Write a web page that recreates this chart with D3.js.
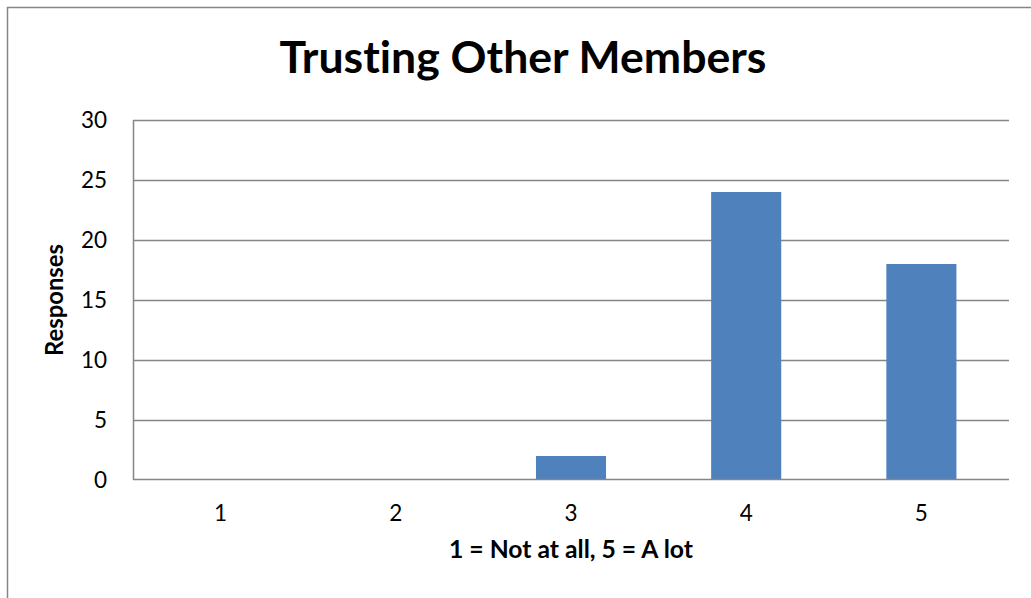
<!DOCTYPE html>
<html>
<head>
<meta charset="utf-8">
<script src="https://cdn.jsdelivr.net/npm/d3@7"></script>
<style>
  body { margin: 0; background: #fff; }
  svg { display: block; font-family: Lato, "Open Sans", sans-serif; font-variant-ligatures: none; }
</style>
</head>
<body>
<svg id="chart" width="1031" height="598"></svg>
<script>
const categories = ['1', '2', '3', '4', '5'];
const responses = [0, 0, 2, 24, 18];
const yTicks = [0, 5, 10, 15, 20, 25, 30];
const chartTitle = 'Trusting Other Members';
const xTitle = '1 = Not at all, 5 = A lot';
const yTitle = 'Responses';

const svg = d3.select('#chart');
const plot = {left: 133, right: 1009, top: 120, bottom: 480};

// fit a text element to a target width by adjusting its font size
function fitWidth(sel, width) {
  let len = sel.node().getComputedTextLength();
  let fs = parseFloat(sel.attr('font-size'));
  sel.attr('font-size', fs * width / len);
}

// outer chart frame (only top/left edges fall inside the picture)
svg.append('rect')
  .attr('x', 7.5).attr('y', 7.5)
  .attr('width', 1100).attr('height', 700)
  .attr('fill', '#fff')
  .attr('stroke', '#868686')
  .attr('stroke-width', 1.5);

let x = d3.scaleBand().domain(categories).range([plot.left, plot.right]).paddingInner(0.6).paddingOuter(0.3);
let y = d3.scaleLinear().domain([0, 30]).range([plot.bottom, plot.top]);

// gridlines
svg.append('g')
  .selectAll('line')
  .data(yTicks.filter(d => d > 0))
  .join('line')
  .attr('x1', plot.left).attr('x2', plot.right)
  .attr('y1', d => Math.round(y(d)) + 0.5).attr('y2', d => Math.round(y(d)) + 0.5)
  .attr('stroke', '#868686')
  .attr('stroke-width', 1.3);

// bars
svg.append('g')
  .selectAll('rect')
  .data(responses)
  .join('rect')
  .attr('x', (d, i) => x(categories[i]))
  .attr('width', x.bandwidth())
  .attr('y', d => y(d))
  .attr('height', d => y(0) - y(d))
  .attr('fill', '#4f81bd');

// axes lines
svg.append('line')
  .attr('x1', plot.left + 0.5).attr('x2', plot.left + 0.5)
  .attr('y1', plot.top).attr('y2', plot.bottom)
  .attr('stroke', '#868686').attr('stroke-width', 1.5);
svg.append('line')
  .attr('x1', plot.left).attr('x2', plot.right)
  .attr('y1', plot.bottom - 0.5).attr('y2', plot.bottom - 0.5)
  .attr('stroke', '#868686').attr('stroke-width', 1.5);

// y tick labels
svg.append('g')
  .selectAll('text')
  .data(yTicks)
  .join('text')
  .attr('x', 107)
  .attr('y', d => y(d) + 8)
  .attr('text-anchor', 'end')
  .attr('font-size', 22.5)
  .attr('fill', '#000')
  .text(d => d);

// x tick labels
svg.append('g')
  .selectAll('text')
  .data(categories)
  .join('text')
  .attr('x', d => x(d) + x.bandwidth() / 2)
  .attr('y', 521)
  .attr('text-anchor', 'middle')
  .attr('font-size', 22.5)
  .attr('fill', '#000')
  .text(d => d);

// title
let title = svg.append('text')
  .attr('x', 523).attr('y', 73)
  .attr('text-anchor', 'middle')
  .attr('font-size', 38)
  .attr('font-weight', 'bold')
  .text(chartTitle);
fitWidth(title, 487);

// x axis title
let xt = svg.append('text')
  .attr('x', 571).attr('y', 558)
  .attr('text-anchor', 'middle')
  .attr('font-size', 18)
  .attr('font-weight', 'bold')
  .text(xTitle);
fitWidth(xt, 244);

// y axis title
let yt = svg.append('text')
  .attr('transform', 'translate(63,' + ((plot.top + plot.bottom) / 2) + ') rotate(-90)')
  .attr('text-anchor', 'middle')
  .attr('font-size', 18)
  .attr('font-weight', 'bold')
  .text(yTitle);
fitWidth(yt, 112);
</script>
</body>
</html>
